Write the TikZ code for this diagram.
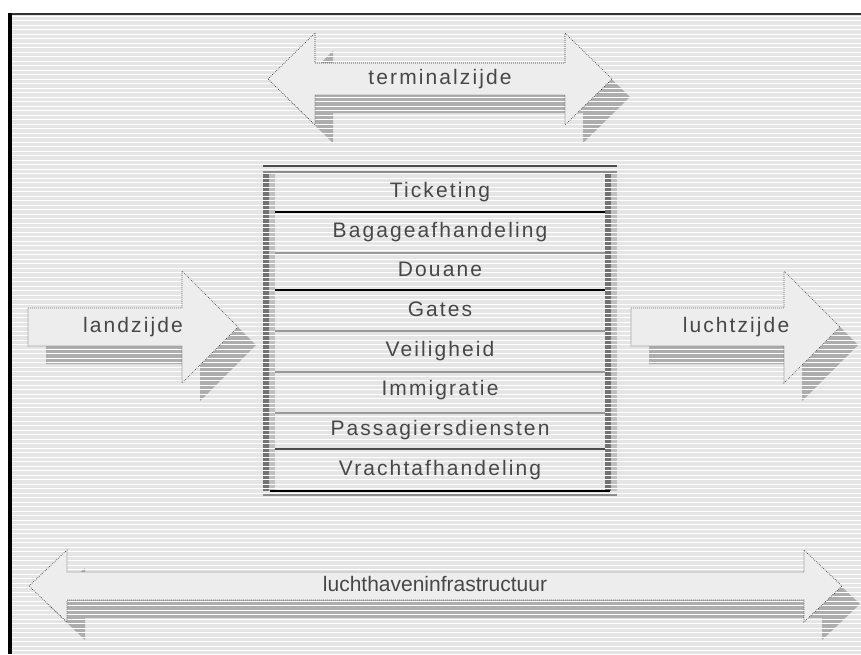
\documentclass[tikz,border=0pt]{standalone}
\usepackage{fontspec}
\setmainfont{Liberation Sans}
\newfontfamily\widefont[LetterSpace=10]{Liberation Sans}
\begin{document}
\begin{tikzpicture}[x=.75pt,y=-.75pt,line join=miter]
  \tikzset{shadow/.style={fill=black!32},
    body/.style={fill=black!7,draw=black!80,densely dotted,line width=.5pt},
    lbl/.style={inner sep=0pt,text=black!72,text height=11.3pt,text depth=3.3pt,font=\widefont\fontsize{15.75}{18}\selectfont},
    band/.style={fill=black!55},
    sep/.style={line width=.9pt}}
  \useasboundingbox (0,0) rectangle (861,654);
  \fill[black!10] (10,14) rectangle (861,654);
  % schaduwen
  \fill[shadow,shift={(18,18)}] (268,79)--(315,33)--(315,63)--(565,63)--(565,33)--(612,79)--(565,125)--(565,95)--(315,95)--(315,125)--cycle;
  \fill[shadow,shift={(18,18)}] (28,308)--(182,308)--(182,271)--(238,327)--(182,383)--(182,346)--(28,346)--cycle;
  \fill[shadow,shift={(18,18)}] (631,308)--(784,308)--(784,271)--(840,327)--(784,383)--(784,346)--(631,346)--cycle;
  \fill[shadow,shift={(18,18)}] (29,586)--(67,550)--(67,572)--(804,572)--(804,550)--(842,586)--(804,622)--(804,600)--(67,600)--(67,622)--cycle;
  \fill[band] (263,172) rectangle (269,491); \fill[black!25] (269,172) rectangle (275,491);
  \fill[band] (605,172) rectangle (611,491); \fill[black!25] (611,172) rectangle (617,491);
  \foreach \y in {16,20.5,...,654} \draw[white,line width=.75pt] (10,\y)--(861,\y);
  % pijlen
  \path[body] (268,79)--(315,33)--(315,63)--(565,63)--(565,33)--(612,79)--(565,125)--(565,95)--(315,95)--(315,125)--cycle;
  \path[body] (28,308)--(182,308)--(182,271)--(238,327)--(182,383)--(182,346)--(28,346)--cycle;
  \path[body] (631,308)--(784,308)--(784,271)--(840,327)--(784,383)--(784,346)--(631,346)--cycle;
  \path[body] (29,586)--(67,550)--(67,572)--(804,572)--(804,550)--(842,586)--(804,622)--(804,600)--(67,600)--(67,622)--cycle;
  \node[lbl] (terminal) at (440,79) {terminalzijde};
  \node[lbl] (land) at (133,327) {landzijde};
  \node[lbl] (lucht) at (736,327) {luchtzijde};
  \node[lbl,font=\fontsize{15.75}{18}\selectfont] (infra) at (435,586) {luchthaveninfrastructuur};
  % blok
  \draw[black!70,line width=1pt] (263,166)--(617,166);
  \draw[black!45,line width=1pt] (263,172)--(617,172);
  \foreach \t [count=\i] in {Ticketing,Bagageafhandeling,Douane,Gates,Veiligheid,Immigratie,Passagiersdiensten,Vrachtafhandeling}
    \node[lbl] (r\i) at (440,{192+39.7*(\i-1)}) {\t};
  \draw[sep,black] (275,212)--(605,212);
  \draw[sep,black!40] (275,253)--(605,253);
  \draw[sep,black] (275,290)--(605,290);
  \draw[sep,black!40] (275,331)--(605,331);
  \draw[sep,black!40] (275,372)--(605,372);
  \draw[sep,black!40] (275,413)--(605,413);
  \draw[sep,black!70] (275,449)--(605,449);
  \draw[black,line width=1.3pt] (270,491)--(610,491);
  \draw[black!45,line width=1pt] (263,495)--(617,495);
  % kader
  \draw[black!80,line width=1.5pt] (9,13.5)--(861,13.5);
  \draw[black,line width=2.5pt] (10,12.75)--(10,654);
\end{tikzpicture}
\end{document}
